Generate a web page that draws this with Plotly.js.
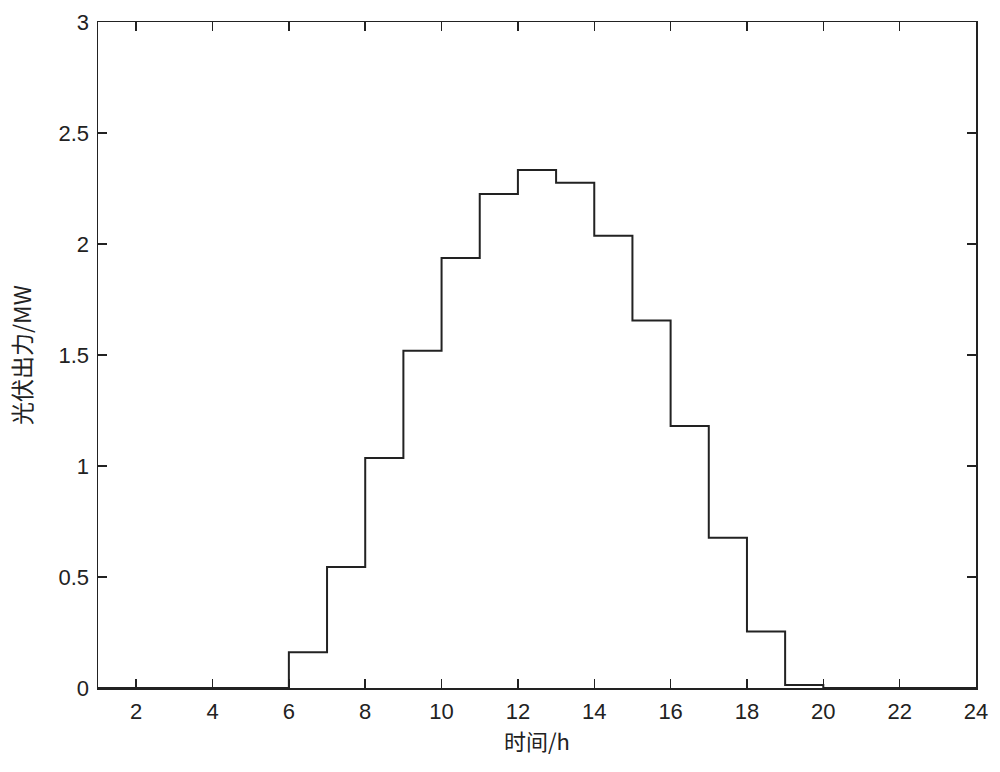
<!DOCTYPE html>
<html>
<head>
<meta charset="utf-8">
<script src="https://cdn.plot.ly/plotly-3.0.1.min.js"></script>
<style>html,body{margin:0;padding:0;background:#fff;}#chart{width:1000px;height:772px;}</style>
</head>
<body>
<div id="chart"></div>
<script>
const hours = [1,2,3,4,5,6,7,8,9,10,11,12,13,14,15,16,17,18,19,20,21,22,23,24];
const pvOutput = [0,0,0,0,0,0.161,0.545,1.036,1.519,1.937,2.225,2.333,2.276,2.037,1.655,1.18,0.677,0.254,0.0135,0,0,0,0,0];
const xTicks = [2,4,6,8,10,12,14,16,18,20,22,24];
const yTicks = [0,0.5,1,1.5,2,2.5,3];
const yTickText = ['0','0.5','1','1.5','2','2.5','3'];

const tickFont = {family: 'Liberation Sans, Arial, sans-serif', size: 22, color: '#222'};
const axisCommon = {
  showgrid: false, zeroline: false, showline: true, linecolor: '#222', linewidth: 1.5,
  mirror: 'allticks', ticks: 'inside', ticklen: 9, tickwidth: 1.5, tickcolor: '#222',
  tickfont: tickFont
};

Plotly.newPlot('chart', [{
  x: hours, y: pvOutput, type: 'scatter', mode: 'lines',
  line: {shape: 'hv', color: '#222', width: 2}, hoverinfo: 'skip'
}], {
  width: 1000, height: 772,
  margin: {l: 98, r: 24, t: 22, b: 84},
  paper_bgcolor: '#fff', plot_bgcolor: '#fff', showlegend: false,
  xaxis: Object.assign({}, axisCommon, {
    range: [1, 24], tickvals: xTicks, ticktext: xTicks.map(String), ticklabelstandoff: 3,
    title: {text: '时间/h', font: {family: 'Noto Sans CJK SC, sans-serif', size: 22, color: '#222'}, standoff: 2}
  }),
  yaxis: Object.assign({}, axisCommon, {
    range: [0, 3], tickvals: yTicks, ticktext: yTickText, ticklabelstandoff: 3,
    title: {text: '光伏出力/MW', font: {family: 'Noto Sans CJK SC, sans-serif', size: 23, color: '#222'}, standoff: 20}
  })
}, {displayModeBar: false, staticPlot: true});
</script>
</body>
</html>
